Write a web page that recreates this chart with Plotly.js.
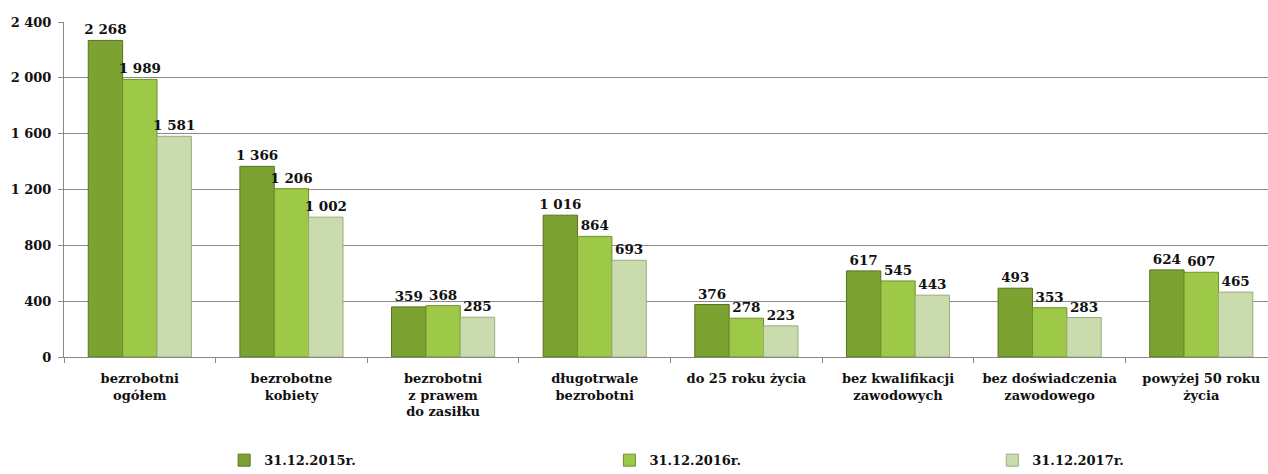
<!DOCTYPE html>
<html>
<head>
<meta charset="utf-8">
<script src="https://cdn.plot.ly/plotly-3.0.1.min.js"></script>
<style>html,body{margin:0;padding:0;background:#fff;}#chart{width:1268px;height:474px;}</style>
</head>
<body>
<div id="chart"></div>
<script>
const categories = [
  "bezrobotni<br>ogółem",
  "bezrobotne<br>kobiety",
  "bezrobotni<br>z prawem<br>do zasiłku",
  "długotrwale<br>bezrobotni",
  "do 25 roku życia",
  "bez kwalifikacji<br>zawodowych",
  "bez doświadczenia<br>zawodowego",
  "powyżej 50 roku<br>życia"
];
const seriesNames = ["31.12.2015r.", "31.12.2016r.", "31.12.2017r."];
const values2015 = [2268, 1366, 359, 1016, 376, 617, 493, 624];
const values2016 = [1989, 1206, 368, 864, 278, 545, 353, 607];
const values2017 = [1581, 1002, 285, 693, 223, 443, 283, 465];
const yTicks = [0, 400, 800, 1200, 1600, 2000, 2400];

const colors = ["#7ca232", "#9ec847", "#cadcad"];
const lineColors = ["#56731f", "#6f9128", "#98ad7c"];
const fontFam = "'DejaVu Serif', serif";
const legendIds = ["legend", "legend2", "legend3"];
const legendX = [0.133, 0.453, 0.771];

function fmt(v){ return String(v).replace(/\B(?=(\d{3})+(?!\d))/g, " "); }

const allVals = [values2015, values2016, values2017];
const traces = allVals.map((vals, i) => ({
  type: "bar",
  name: seriesNames[i],
  legend: legendIds[i],
  x: categories,
  y: vals,
  text: vals.map(fmt),
  textposition: "outside",
  constraintext: "none",
  cliponaxis: false,
  textfont: {family: fontFam, size: 13.5, color: "#111", weight: "bold"},
  marker: {color: colors[i], line: {color: lineColors[i], width: 1}},
  hoverinfo: "none"
}));

const legendFont = {family: fontFam, size: 13, color: "#111", weight: "bold"};
function legendCfg(x){
  return {orientation: "h", x: x, xanchor: "left", y: -0.308, yanchor: "middle",
          font: legendFont, bgcolor: "rgba(0,0,0,0)", borderwidth: 0};
}

const layout = {
  width: 1268, height: 474,
  margin: {l: 64, r: 0, t: 21.5, b: 116.5, autoexpand: false},
  paper_bgcolor: "#fff", plot_bgcolor: "#fff",
  font: {family: fontFam, size: 13, color: "#111", weight: "bold"},
  barmode: "group",
  bargap: 0.32,
  bargroupgap: 0,
  showlegend: true,
  legend: legendCfg(legendX[0]),
  legend2: legendCfg(legendX[1]),
  legend3: legendCfg(legendX[2]),
  xaxis: {
    type: "category",
    range: [-0.5, 7.44],
    showline: true, linecolor: "#888", linewidth: 1,
    ticks: "outside", ticklen: 5, tickcolor: "#888", tickson: "boundaries",
    ticklabelstandoff: 9,
    showgrid: false,
    tickfont: {family: fontFam, size: 13, color: "#111", weight: "bold"}
  },
  yaxis: {
    range: [0, 2400],
    tickvals: yTicks,
    ticktext: yTicks.map(fmt),
    showline: true, linecolor: "#888", linewidth: 1,
    ticks: "outside", ticklen: 5, tickcolor: "#888",
    ticklabelstandoff: 4,
    showgrid: true, gridcolor: "#8a8a8a", gridwidth: 1,
    zeroline: false,
    tickfont: {family: fontFam, size: 13, color: "#111", weight: "bold"}
  }
};

Plotly.newPlot("chart", traces, layout, {displayModeBar: false, staticPlot: true});
</script>
</body>
</html>
